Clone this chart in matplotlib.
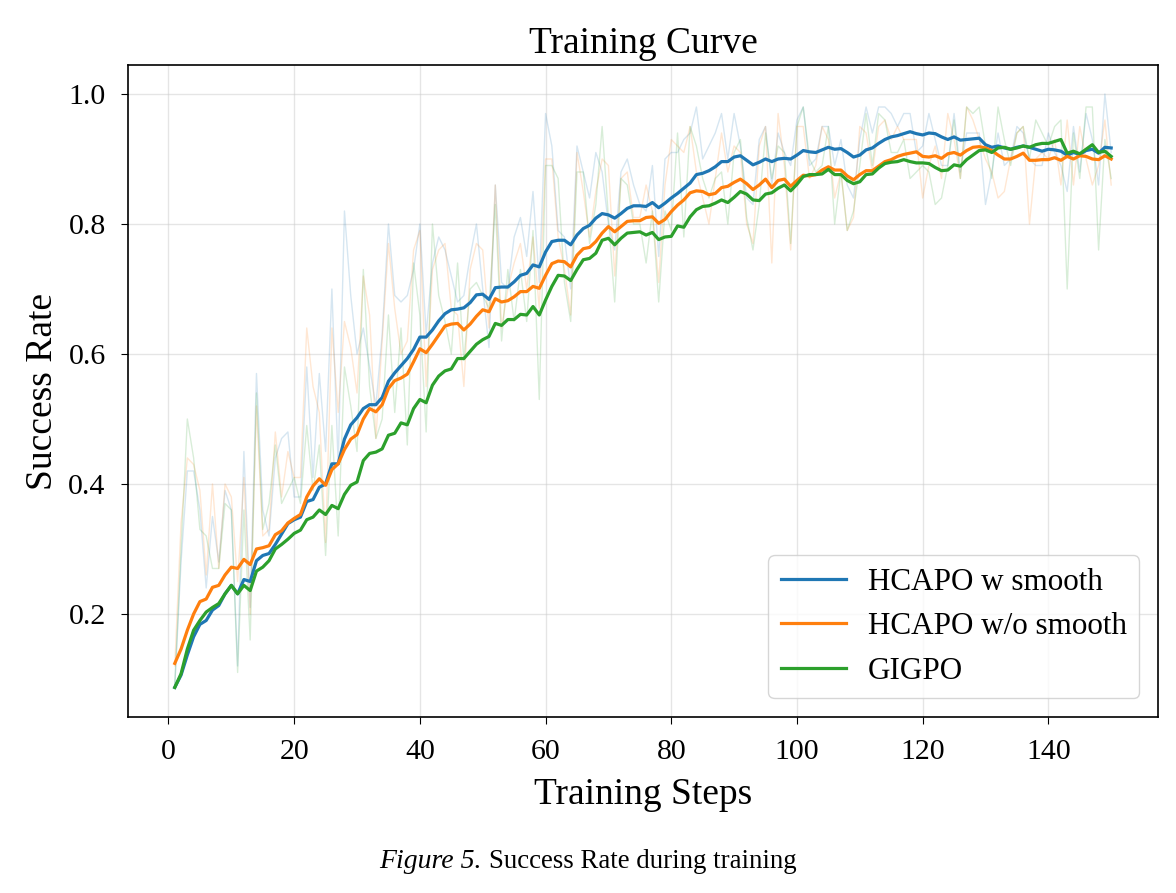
import numpy as np
import matplotlib
matplotlib.use('Agg')
import matplotlib.pyplot as plt

plt.rcParams['font.family'] = ['Liberation Serif', 'DejaVu Serif']

steps = np.arange(1, 151)

# raw success rate per step (faint lines)
blue_raw = [0.09, 0.28, 0.42, 0.42, 0.36, 0.24, 0.35, 0.28, 0.39, 0.36,
            0.12, 0.45, 0.21, 0.57, 0.36, 0.32, 0.44, 0.47, 0.48, 0.38,
            0.38, 0.58, 0.41, 0.57, 0.45, 0.70, 0.43, 0.82, 0.69, 0.60,
            0.64, 0.58, 0.52, 0.63, 0.80, 0.69, 0.68, 0.69, 0.73, 0.80,
            0.63, 0.74, 0.78, 0.76, 0.72, 0.68, 0.69, 0.75, 0.80, 0.70,
            0.61, 0.86, 0.71, 0.70, 0.78, 0.81, 0.75, 0.85, 0.71, 0.97,
            0.92, 0.79, 0.78, 0.70, 0.92, 0.88, 0.84, 0.91, 0.88, 0.80,
            0.76, 0.88, 0.90, 0.86, 0.83, 0.82, 0.89, 0.75, 0.90, 0.91,
            0.91, 0.93, 0.94, 0.98, 0.90, 0.92, 0.94, 0.97, 0.90, 0.97,
            0.92, 0.84, 0.83, 0.93, 0.95, 0.86, 0.94, 0.91, 0.89, 0.96,
            0.98, 0.89, 0.90, 0.95, 0.95, 0.89, 0.93, 0.86, 0.84, 0.93,
            0.98, 0.94, 0.98, 0.98, 0.97, 0.95, 0.97, 0.97, 0.91, 0.92,
            0.97, 0.93, 0.89, 0.89, 0.97, 0.88, 0.94, 0.94, 0.94, 0.83,
            0.88, 0.94, 0.89, 0.90, 0.95, 0.94, 0.90, 0.89, 0.89, 0.94,
            0.91, 0.89, 0.85, 0.95, 0.88, 0.97, 0.93, 0.86, 1.00, 0.91]

orange_raw = [0.12, 0.34, 0.44, 0.43, 0.39, 0.26, 0.40, 0.27, 0.40, 0.38,
              0.25, 0.41, 0.20, 0.52, 0.32, 0.33, 0.48, 0.38, 0.45, 0.41,
              0.41, 0.64, 0.55, 0.51, 0.31, 0.64, 0.51, 0.65, 0.61, 0.54,
              0.72, 0.66, 0.47, 0.62, 0.77, 0.67, 0.60, 0.62, 0.76, 0.79,
              0.55, 0.73, 0.76, 0.77, 0.67, 0.66, 0.55, 0.73, 0.77, 0.76,
              0.64, 0.86, 0.64, 0.70, 0.74, 0.77, 0.70, 0.78, 0.67, 0.90,
              0.90, 0.78, 0.73, 0.66, 0.91, 0.85, 0.78, 0.85, 0.90, 0.89,
              0.72, 0.87, 0.88, 0.81, 0.81, 0.86, 0.82, 0.71, 0.86, 0.93,
              0.92, 0.91, 0.95, 0.88, 0.84, 0.80, 0.87, 0.94, 0.88, 0.92,
              0.91, 0.80, 0.77, 0.92, 0.95, 0.74, 0.97, 0.89, 0.76, 0.95,
              0.95, 0.87, 0.89, 0.95, 0.93, 0.84, 0.88, 0.79, 0.81, 0.95,
              0.94, 0.88, 0.95, 0.96, 0.93, 0.95, 0.93, 0.93, 0.93, 0.84,
              0.89, 0.92, 0.87, 0.97, 0.93, 0.87, 0.98, 0.96, 0.93, 0.90,
              0.88, 0.84, 0.85, 0.90, 0.94, 0.95, 0.80, 0.90, 0.91, 0.90,
              0.93, 0.86, 0.96, 0.86, 0.95, 0.90, 0.86, 0.89, 0.96, 0.86]

green_raw = [0.09, 0.30, 0.50, 0.44, 0.33, 0.32, 0.27, 0.27, 0.37, 0.36,
             0.11, 0.36, 0.16, 0.54, 0.33, 0.37, 0.46, 0.37, 0.39, 0.41,
             0.37, 0.49, 0.39, 0.46, 0.29, 0.49, 0.32, 0.58, 0.52, 0.45,
             0.73, 0.55, 0.47, 0.50, 0.66, 0.51, 0.64, 0.46, 0.74, 0.66,
             0.48, 0.80, 0.69, 0.65, 0.60, 0.74, 0.59, 0.70, 0.71, 0.69,
             0.67, 0.83, 0.62, 0.73, 0.65, 0.73, 0.65, 0.79, 0.53, 0.89,
             0.89, 0.87, 0.71, 0.65, 0.88, 0.88, 0.77, 0.83, 0.95, 0.81,
             0.68, 0.87, 0.86, 0.80, 0.80, 0.74, 0.82, 0.68, 0.82, 0.79,
             0.94, 0.78, 0.95, 0.92, 0.87, 0.84, 0.87, 0.88, 0.80, 0.91,
             0.93, 0.81, 0.76, 0.83, 0.94, 0.87, 0.92, 0.91, 0.77, 0.95,
             0.98, 0.90, 0.88, 0.89, 0.95, 0.80, 0.88, 0.79, 0.82, 0.89,
             0.97, 0.89, 0.97, 0.96, 0.91, 0.91, 0.93, 0.87, 0.88, 0.89,
             0.88, 0.83, 0.84, 0.89, 0.96, 0.87, 0.98, 0.97, 0.98, 0.92,
             0.87, 0.98, 0.93, 0.89, 0.94, 0.95, 0.90, 0.96, 0.94, 0.92,
             0.95, 0.96, 0.70, 0.94, 0.87, 0.98, 0.98, 0.76, 0.93, 0.87]

# smoothed curves (bold lines)
blue_smooth = [0.087, 0.106, 0.137, 0.165, 0.184, 0.190, 0.206, 0.213, 0.231, 0.244,
               0.231, 0.253, 0.250, 0.282, 0.290, 0.293, 0.307, 0.323, 0.339, 0.345,
               0.349, 0.373, 0.376, 0.395, 0.400, 0.431, 0.431, 0.469, 0.491, 0.502,
               0.516, 0.522, 0.522, 0.533, 0.558, 0.571, 0.582, 0.593, 0.607, 0.626,
               0.626, 0.637, 0.651, 0.662, 0.668, 0.669, 0.671, 0.679, 0.691, 0.692,
               0.684, 0.702, 0.703, 0.703, 0.711, 0.721, 0.724, 0.737, 0.734, 0.757,
               0.773, 0.775, 0.775, 0.768, 0.783, 0.793, 0.798, 0.809, 0.816, 0.814,
               0.809, 0.816, 0.824, 0.828, 0.828, 0.827, 0.833, 0.825, 0.832, 0.840,
               0.847, 0.855, 0.863, 0.876, 0.878, 0.882, 0.888, 0.896, 0.896, 0.903,
               0.905, 0.898, 0.891, 0.895, 0.900, 0.896, 0.900, 0.901, 0.900, 0.906,
               0.913, 0.911, 0.910, 0.914, 0.918, 0.915, 0.916, 0.910, 0.903, 0.906,
               0.914, 0.917, 0.924, 0.930, 0.934, 0.936, 0.939, 0.942, 0.939, 0.937,
               0.940, 0.939, 0.934, 0.930, 0.934, 0.929, 0.930, 0.931, 0.932, 0.922,
               0.918, 0.920, 0.917, 0.915, 0.918, 0.920, 0.918, 0.915, 0.912, 0.915,
               0.914, 0.912, 0.906, 0.910, 0.907, 0.913, 0.915, 0.909, 0.918, 0.917]

orange_smooth = [0.124, 0.146, 0.175, 0.200, 0.219, 0.223, 0.241, 0.244, 0.260, 0.272,
                 0.270, 0.284, 0.276, 0.300, 0.302, 0.305, 0.322, 0.328, 0.340, 0.347,
                 0.353, 0.380, 0.397, 0.408, 0.398, 0.422, 0.431, 0.453, 0.469, 0.476,
                 0.500, 0.516, 0.511, 0.522, 0.547, 0.559, 0.563, 0.569, 0.588, 0.608,
                 0.602, 0.615, 0.629, 0.643, 0.646, 0.647, 0.637, 0.646, 0.658, 0.668,
                 0.665, 0.685, 0.680, 0.682, 0.688, 0.696, 0.696, 0.704, 0.701, 0.721,
                 0.739, 0.743, 0.742, 0.734, 0.752, 0.762, 0.764, 0.773, 0.786, 0.796,
                 0.788, 0.796, 0.804, 0.805, 0.805, 0.810, 0.811, 0.801, 0.807, 0.819,
                 0.829, 0.837, 0.848, 0.851, 0.850, 0.845, 0.847, 0.856, 0.858, 0.864,
                 0.869, 0.862, 0.853, 0.860, 0.869, 0.856, 0.867, 0.869, 0.858, 0.867,
                 0.875, 0.874, 0.876, 0.883, 0.888, 0.883, 0.883, 0.874, 0.868, 0.876,
                 0.882, 0.882, 0.889, 0.896, 0.899, 0.904, 0.907, 0.909, 0.911, 0.904,
                 0.903, 0.905, 0.901, 0.908, 0.910, 0.906, 0.913, 0.918, 0.919, 0.917,
                 0.913, 0.906, 0.900, 0.900, 0.904, 0.909, 0.898, 0.898, 0.899, 0.899,
                 0.902, 0.898, 0.904, 0.900, 0.905, 0.904, 0.900, 0.899, 0.905, 0.900]

green_smooth = [0.087, 0.108, 0.146, 0.175, 0.190, 0.203, 0.210, 0.216, 0.231, 0.244,
                0.231, 0.244, 0.236, 0.266, 0.272, 0.282, 0.300, 0.307, 0.315, 0.324,
                0.329, 0.345, 0.349, 0.360, 0.353, 0.367, 0.362, 0.384, 0.398, 0.403,
                0.436, 0.447, 0.449, 0.454, 0.475, 0.478, 0.494, 0.491, 0.516, 0.530,
                0.525, 0.552, 0.566, 0.574, 0.577, 0.593, 0.593, 0.604, 0.615, 0.622,
                0.627, 0.647, 0.644, 0.653, 0.653, 0.661, 0.660, 0.673, 0.660, 0.683,
                0.704, 0.721, 0.720, 0.713, 0.730, 0.745, 0.747, 0.755, 0.775, 0.778,
                0.768, 0.778, 0.786, 0.787, 0.788, 0.783, 0.787, 0.776, 0.780, 0.781,
                0.797, 0.795, 0.811, 0.822, 0.827, 0.828, 0.832, 0.837, 0.833, 0.841,
                0.850, 0.846, 0.837, 0.836, 0.846, 0.848, 0.855, 0.860, 0.851, 0.861,
                0.873, 0.876, 0.876, 0.877, 0.884, 0.876, 0.876, 0.867, 0.862, 0.865,
                0.876, 0.877, 0.886, 0.893, 0.895, 0.896, 0.899, 0.896, 0.894, 0.894,
                0.893, 0.887, 0.882, 0.883, 0.891, 0.889, 0.899, 0.906, 0.913, 0.914,
                0.910, 0.917, 0.918, 0.915, 0.917, 0.920, 0.918, 0.922, 0.924, 0.924,
                0.927, 0.930, 0.909, 0.912, 0.908, 0.915, 0.922, 0.910, 0.912, 0.904]

labels = ['HCAPO w smooth', 'HCAPO w/o smooth', 'GIGPO']
colors = ['#1f77b4', '#ff7f0e', '#2ca02c']

fig = plt.figure(figsize=(11.76, 8.93), dpi=100)
ax = fig.add_axes([0.1088, 0.1971, 0.8759, 0.7301])

for raw, col in zip([blue_raw, orange_raw, green_raw], colors):
    ax.plot(steps, raw, color=col, alpha=0.18, lw=1.0)
for sm, col, lab in zip([blue_smooth, orange_smooth, green_smooth], colors, labels):
    ax.plot(steps, sm, color=col, lw=2.3, label=lab)

ax.set_xlim(-6.45, 157.45)
ax.set_ylim(0.0415, 1.0446)
ax.set_yticks([0.2, 0.4, 0.6, 0.8, 1.0])
ax.grid(True, color='#cccccc', alpha=0.5, lw=1.0)
ax.tick_params(labelsize=21.5, length=5, pad=11)
for s in ax.spines.values():
    s.set_linewidth(1.2)

ax.set_title('Training Curve', fontsize=27, pad=9)
ax.set_xlabel('Training Steps', fontsize=27, labelpad=9)
ax.set_ylabel('Success Rate', fontsize=27, labelpad=6)
ax.legend(loc='lower right', fontsize=22.4, framealpha=0.8, borderaxespad=0.6,
          handlelength=2.1, handletextpad=0.7)

fig.text(0.4099, 0.0358, 'Figure 5.', fontsize=20, style='italic', ha='right', va='center')
fig.text(0.4158, 0.0358, 'Success Rate during training', fontsize=19.4, ha='left', va='center')

fig.savefig('out.png', dpi=100)
